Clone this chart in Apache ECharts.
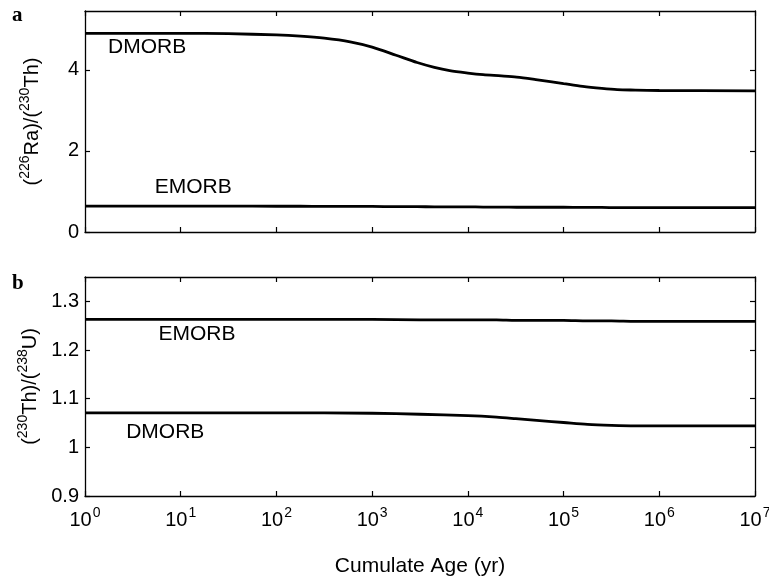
<!DOCTYPE html>
<html>
<head>
<meta charset="utf-8">
<script src="https://cdn.jsdelivr.net/npm/echarts@6/dist/echarts.min.js"></script>
<style>
  html, body { margin: 0; padding: 0; background: #fff; }
  #chart { width: 769px; height: 581px; }
</style>
</head>
<body>
<div id="chart"></div>
<script>
// Cumulate age (yr) sampled on a log grid
const ageA = [1, 10, 31.6, 100, 178, 316, 589, 1000, 1778, 2951, 4467, 6457, 10000, 14454, 22387, 32359, 51286, 72444, 100000, 158489, 251189, 363078, 562341, 1000000, 10000000];
// (226Ra)/(230Th) for panel a
const raThDMORB = [4.90, 4.90, 4.89, 4.86, 4.83, 4.78, 4.69, 4.56, 4.36, 4.18, 4.06, 3.98, 3.92, 3.88, 3.85, 3.82, 3.76, 3.71, 3.66, 3.59, 3.54, 3.51, 3.50, 3.49, 3.48];
const raThEMORB = [0.64, 0.64, 0.64, 0.635, 0.635, 0.63, 0.63, 0.63, 0.625, 0.625, 0.62, 0.62, 0.62, 0.615, 0.615, 0.61, 0.61, 0.61, 0.61, 0.605, 0.605, 0.60, 0.60, 0.60, 0.60];

const ageB = [1, 10, 100, 1000, 3162, 10000, 19953, 31623, 56234, 100000, 177828, 316228, 562341, 1000000, 10000000];
// (230Th)/(238U) for panel b
const thUEMORB = [1.263, 1.263, 1.263, 1.263, 1.262, 1.262, 1.262, 1.261, 1.261, 1.261, 1.260, 1.260, 1.259, 1.259, 1.259];
const thUDMORB = [1.071, 1.071, 1.071, 1.070, 1.068, 1.065, 1.062, 1.059, 1.055, 1.051, 1.047, 1.045, 1.044, 1.044, 1.044];

// Tick values
const xTicks = [1, 10, 100, 1000, 10000, 100000, 1000000, 10000000];
const yTicksA = [0, 2, 4];
const yTicksB = [0.9, 1.0, 1.1, 1.2, 1.3];

// Curve name tags, anchored in data coordinates [age, value]
const tagsA = [['DMORB', 4.45, 4.55], ['EMORB', 13.5, 1.1]];
const tagsB = [['EMORB', 14.8, 1.232], ['DMORB', 6.9, 1.031]];

const FONT = '"Liberation Sans", Arial, Helvetica, sans-serif';
const INK = '#000';

function zip(xs, ys) { return xs.map((x, i) => [x, ys[i]]); }

function xAxisDef(gridIndex, position, showLabels) {
  return {
    type: 'log', logBase: 10, gridIndex, position,
    min: 1, max: 10000000, splitNumber: 7,
    axisLine: { show: true, onZero: false, lineStyle: { color: INK, width: 1.3 } },
    axisTick: { show: true, inside: true, length: 5, lineStyle: { color: INK, width: 1.2 },
                customValues: xTicks },
    splitLine: { show: false },
    minorTick: { show: false },
    axisLabel: showLabels ? {
      show: true, margin: 8, customValues: xTicks,
      formatter: v => '{b|10}{s|' + Math.round(Math.log10(v)) + '}',
      rich: {
        b: { fontFamily: FONT, fontSize: 20, color: INK, verticalAlign: 'bottom', lineHeight: 26 },
        s: { fontFamily: FONT, fontSize: 14, color: INK, verticalAlign: 'bottom', lineHeight: 26, padding: [0, 0, 10, 1] }
      }
    } : { show: false },
    name: showLabels ? 'Cumulate Age (yr)' : '',
    nameLocation: 'middle', nameGap: 60,
    nameTextStyle: { fontFamily: FONT, fontSize: 21, color: INK }
  };
}

function yAxisDef(gridIndex, position, min, max, ticks, showLabels, nameRich, nameGap) {
  return {
    type: 'value', gridIndex, position, min, max,
    axisLine: { show: true, onZero: false, lineStyle: { color: INK, width: 1.3 } },
    axisTick: { show: true, inside: true, length: 5, lineStyle: { color: INK, width: 1.2 },
                customValues: ticks },
    splitLine: { show: false },
    axisLabel: showLabels ? {
      show: true, margin: 6, customValues: ticks,
      fontFamily: FONT, fontSize: 20, color: INK,
      formatter: v => String(Math.round(v * 10) / 10)
    } : { show: false },
    name: nameRich || '',
    nameLocation: 'middle', nameGap: nameGap || 40, nameRotate: 90,
    nameTextStyle: {
      fontFamily: FONT, fontSize: 20, color: INK,
      rich: {
        p: { fontFamily: FONT, fontSize: 20, color: INK, verticalAlign: 'bottom', lineHeight: 24 },
        s: { fontFamily: FONT, fontSize: 14, color: INK, verticalAlign: 'bottom', lineHeight: 24, padding: [0, 0, 10, 0] }
      }
    }
  };
}

function curve(name, xi, yi, data) {
  return {
    name, type: 'line', xAxisIndex: xi, yAxisIndex: yi, data,
    smooth: 0.3, showSymbol: false, symbol: 'none',
    lineStyle: { color: INK, width: 2.8 }, z: 5, silent: true
  };
}

function tags(xi, yi, list) {
  return {
    type: 'scatter', xAxisIndex: xi, yAxisIndex: yi, symbolSize: 0, silent: true,
    itemStyle: { opacity: 1, color: INK },
    data: list.map(t => ({ name: t[0], value: [t[1], t[2]] })),
    label: { show: true, position: 'inside', formatter: p => p.name, opacity: 1,
             fontFamily: FONT, fontSize: 21, color: INK, textBorderWidth: 0 }
  };
}

const chart = echarts.init(document.getElementById('chart'), null, { renderer: 'canvas' });
chart.setOption({
  animation: false,
  backgroundColor: '#fff',
  grid: [
    { left: 85, right: 14, top: 11, height: 221, outerBoundsMode: 'none' },
    { left: 85, right: 14, top: 277, height: 219, outerBoundsMode: 'none' }
  ],
  xAxis: [
    xAxisDef(0, 'bottom', false),
    xAxisDef(0, 'top', false),
    xAxisDef(1, 'bottom', true),
    xAxisDef(1, 'top', false)
  ],
  yAxis: [
    yAxisDef(0, 'left', 0, 5.45, yTicksA, true, '{p|(}{s|226}{p|Ra)/(}{s|230}{p|Th)}', 43),
    yAxisDef(0, 'right', 0, 5.45, yTicksA, false),
    yAxisDef(1, 'left', 0.9, 1.35, yTicksB, true, '{p|(}{s|230}{p|Th)/(}{s|238}{p|U)}', 38),
    yAxisDef(1, 'right', 0.9, 1.35, yTicksB, false)
  ],
  graphic: [
    { type: 'text', left: 12, top: 5, style: { text: 'a', fontFamily: '"Liberation Serif", "Times New Roman", serif', fontWeight: 'bold', fontSize: 21, fill: INK } },
    { type: 'text', left: 12, top: 273, style: { text: 'b', fontFamily: '"Liberation Serif", "Times New Roman", serif', fontWeight: 'bold', fontSize: 21, fill: INK } }
  ],
  series: [
    curve('DMORB', 0, 0, zip(ageA, raThDMORB)),
    curve('EMORB', 0, 0, zip(ageA, raThEMORB)),
    curve('EMORB', 2, 2, zip(ageB, thUEMORB)),
    curve('DMORB', 2, 2, zip(ageB, thUDMORB)),
    tags(0, 0, tagsA),
    tags(2, 2, tagsB)
  ]
});
</script>
</body>
</html>
